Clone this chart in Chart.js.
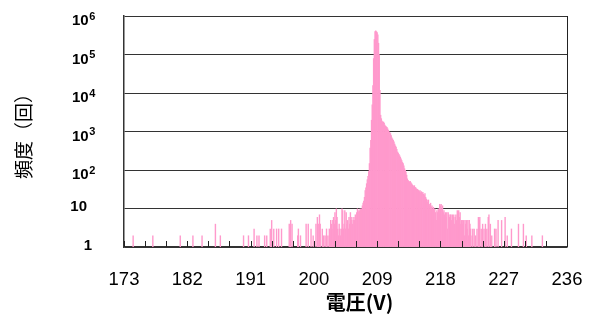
<!DOCTYPE html>
<html>
<head>
<meta charset="utf-8">
<script src="https://cdn.jsdelivr.net/npm/chart.js@4/dist/chart.umd.min.js"></script>
<style>
  html, body { margin: 0; padding: 0; background: #fff; }
  #wrap { width: 594px; height: 322px; }
</style>
</head>
<body>
<div id="wrap"><canvas id="c" width="594" height="322"></canvas></div>
<script>
// Voltage histogram: bin voltage (V) and number of occurrences in that bin
const voltages = [
  174.3, 177.1, 181.0, 182.8, 184.1, 186.0, 186.7,
  190.0, 190.7, 191.5, 191.9, 192.2, 193.0, 193.3, 193.8, 194.0, 194.3, 194.7, 195.0, 195.4,
  196.5, 196.7, 196.9, 197.7, 197.8, 198.1, 198.9, 199.2, 199.6, 199.9,
  200.3, 200.5, 200.7, 200.8, 200.9, 201.2, 201.4, 201.6, 201.8, 202.0,
  202.2, 202.3, 202.4, 202.5, 202.6, 202.7, 202.8, 202.9,
  203.0, 203.1, 203.2, 203.3, 203.4, 203.5, 203.6, 203.7, 203.8, 203.9,
  204.0, 204.1, 204.2, 204.3, 204.4, 204.5, 204.6, 204.7, 204.8, 204.9,
  205.0, 205.1, 205.2, 205.3, 205.4, 205.5, 205.6, 205.7, 205.8, 205.9,
  206.0, 206.1, 206.2, 206.3, 206.4, 206.5, 206.6, 206.7, 206.8, 206.9,
  207.0, 207.1, 207.2, 207.3, 207.4, 207.5, 207.6, 207.7, 207.8, 207.9,
  208.0, 208.1, 208.2, 208.3, 208.4, 208.5, 208.6, 208.7, 208.8, 208.9,
  209.0, 209.1, 209.2, 209.3, 209.4, 209.5, 209.6, 209.7, 209.8, 209.9,
  210.0, 210.1, 210.2, 210.3, 210.4, 210.5, 210.6, 210.7, 210.8, 210.9,
  211.0, 211.1, 211.2, 211.3, 211.4, 211.5, 211.6, 211.7, 211.8, 211.9,
  212.0, 212.1, 212.2, 212.3, 212.4, 212.5, 212.6, 212.7, 212.8, 212.9,
  213.0, 213.1, 213.2, 213.3, 213.4, 213.5, 213.6, 213.7, 213.8, 213.9,
  214.0, 214.1, 214.2, 214.3, 214.4, 214.5, 214.6, 214.7, 214.8, 214.9,
  215.0, 215.1, 215.2, 215.3, 215.4, 215.5, 215.6, 215.7, 215.8, 215.9,
  216.0, 216.1, 216.2, 216.3, 216.4, 216.5, 216.6, 216.7, 216.8, 216.9,
  217.0, 217.1, 217.2, 217.3, 217.4, 217.5, 217.6, 217.7, 217.8, 217.9,
  218.0, 218.1, 218.2, 218.3, 218.4, 218.5, 218.6, 218.7, 218.8, 218.9,
  219.0, 219.1, 219.2, 219.3, 219.4, 219.5, 219.6, 219.7, 219.8, 219.9,
  220.0, 220.1, 220.2, 220.3, 220.4, 220.5, 220.6, 220.7, 220.8, 220.9,
  221.0, 221.1, 221.2, 221.3, 221.4, 221.5, 221.6, 221.7, 221.8, 221.9,
  222.0, 222.1, 222.2, 222.3, 222.5, 222.6, 222.8, 223.0, 223.2, 223.4,
  223.5, 223.6, 223.8, 224.0, 224.2, 224.4, 224.6, 224.8, 224.9, 225.1,
  225.3, 225.7, 225.9, 226.2, 226.7, 227.2, 227.5, 228.1, 229.1, 229.8,
  230.2, 231.0, 232.5
];
const counts = [
  2, 2, 2, 2, 2, 4, 2,
  2, 2, 3, 2, 2, 2, 2, 3, 5, 3, 3, 3, 3,
  4, 5, 4, 2, 3, 2, 4, 4, 3, 2,
  4, 6, 4, 7, 4, 3, 2, 2, 3, 2,
  3, 2, 5, 4, 3, 5, 6, 4,
  8, 5, 10, 6, 3, 2, 4, 3, 2, 3,
  10, 9, 3, 4, 9, 3, 8, 4, 5, 3,
  6, 4, 8, 5, 6, 4, 5, 6, 5, 7,
  6, 8, 10, 9, 8, 9, 10, 9, 10, 12,
  14, 16, 20, 30, 35, 45, 57, 70, 93, 150,
  380, 600, 2000, 5000, 16000, 80000, 250000, 400000, 420000, 400000,
  380000, 330000, 200000, 100000, 12000, 2700, 2200, 1900, 1800, 1800,
  1700, 1500, 1400, 1350, 1300, 1200, 1100, 1000, 950, 900,
  800, 700, 650, 600, 550, 480, 430, 400, 350, 300,
  280, 260, 240, 220, 200, 180, 160, 150, 130, 110,
  100, 90, 75, 60, 55, 52, 50, 52, 48, 45,
  42, 40, 38, 40, 36, 35, 33, 32, 31, 30,
  28, 30, 26, 28, 25, 27, 24, 22, 25, 20,
  18, 17, 15, 17, 13, 12, 14, 11, 12, 10,
  11, 9, 10, 8, 5, 9, 8, 10, 7, 13,
  12, 13, 10, 12, 8, 9, 7, 8, 6, 8,
  3, 8, 7, 6, 7, 7, 5, 7, 6, 7,
  4, 6, 7, 5, 9, 8, 9, 6, 8, 4,
  5, 5, 4, 5, 2, 5, 4, 5, 3, 5,
  2, 5, 4, 3, 2, 3, 3, 2, 3, 6,
  5, 6, 3, 4, 3, 4, 3, 6, 7, 4,
  2, 3, 3, 5, 5, 6, 2, 3, 4, 4,
  2, 2, 2
];

// Axis ticks: voltage labels every 9 V, count labels at each decade (base + exponent)
const xTickLabels = [173, 182, 191, 200, 209, 218, 227, 236];
const yTickValues = [1, 10, 100, 1000, 10000, 100000, 1000000];
const yTickBases = ['1', '10', '10', '10', '10', '10', '10'];
const yTickExponents = ['', '', '2', '3', '4', '5', '6'];
const xTitle = '電圧(V)';

const points = voltages.map((v, i) => ({ x: v, y: counts[i] }));

const LABEL_FONT = '"Liberation Sans", Arial, sans-serif';
const CJK_FONT = '"Noto Sans CJK JP", sans-serif';

// Inward tick marks on the voltage axis, right edge of the plot frame,
// decade labels written as 10 with a raised exponent, and the voltage axis title
const framePlugin = {
  id: 'frame',
  afterDatasetsDraw(chart) {
    const { ctx, chartArea: a, scales: { x } } = chart;
    ctx.save();
    ctx.strokeStyle = '#222';
    ctx.lineWidth = 1;
    ctx.beginPath();
    x.ticks.forEach(t => {
      const px = Math.round(x.getPixelForValue(t.value)) + 0.5;
      ctx.moveTo(px, a.bottom);
      ctx.lineTo(px, a.bottom - 6);
    });
    const rx = Math.round(a.right) + 0.5;
    ctx.moveTo(rx, a.top);
    ctx.lineTo(rx, a.bottom);
    ctx.stroke();
    ctx.restore();
  },
  afterDraw(chart) {
    const { ctx, chartArea: a, scales: { y } } = chart;
    ctx.save();
    ctx.fillStyle = '#000';
    ctx.textBaseline = 'middle';
    yTickValues.forEach((v, i) => {
      const py = y.getPixelForValue(v);
      const base = yTickBases[i];
      const exp = yTickExponents[i];
      ctx.font = 'bold 15px ' + LABEL_FONT;
      if (exp) {
        ctx.textAlign = 'left';
        const bx = a.left - 52;
        ctx.fillText(base, bx, py + 5);
        const w = ctx.measureText(base).width;
        ctx.font = 'bold 11px ' + LABEL_FONT;
        ctx.fillText(exp, bx + w + 0.5, py + 0.5);
      } else {
        ctx.textAlign = 'right';
        ctx.fillText(base, a.left - (base.length > 1 ? 37 : 32), py - 1.5);
      }
    });
    ctx.font = 'bold 20px ' + CJK_FONT;
    ctx.textAlign = 'center';
    ctx.fillText(xTitle, (a.left + a.right) / 2 + 14, a.bottom + 55);
    ctx.restore();
  }
};

new Chart(document.getElementById('c'), {
  type: 'bar',
  data: {
    datasets: [{
      data: points,
      backgroundColor: '#FF99CC',
      borderWidth: 0,
      barPercentage: 2,
      categoryPercentage: 1
    }]
  },
  options: {
    responsive: false,
    animation: false,
    layout: { padding: { left: 0, right: 27, top: 16, bottom: 0 } },
    plugins: { legend: { display: false }, tooltip: { enabled: false } },
    scales: {
      x: {
        type: 'linear',
        offset: false,
        min: 173,
        max: 236,
        afterFit: s => { s.height = 75; s.paddingLeft = 0; s.paddingRight = 0; },
        grid: { display: false, drawTicks: false, offset: false },
        border: { display: true, color: '#333', width: 1.5 },
        ticks: {
          stepSize: 3,
          autoSkip: false,
          maxRotation: 0,
          padding: 22,
          color: '#000',
          font: { family: LABEL_FONT, size: 18.5 },
          callback: v => (xTickLabels.includes(v) ? String(v) : '')
        }
      },
      y: {
        type: 'logarithmic',
        min: 1,
        max: 1000000,
        afterFit: s => { s.width = 124; s.paddingTop = 0; s.paddingBottom = 0; },
        afterBuildTicks: s => { s.ticks = yTickValues.map(v => ({ value: v })); },
        grid: { color: '#333', lineWidth: 1, drawTicks: false },
        border: { display: true, color: '#333', width: 1.5 },
        ticks: { display: false },
        title: {
          display: true,
          text: '頻度（回）',
          color: '#000',
          padding: { top: 12, bottom: 0 },
          font: { family: CJK_FONT, size: 19 }
        }
      }
    }
  },
  plugins: [framePlugin]
});
</script>
</body>
</html>
